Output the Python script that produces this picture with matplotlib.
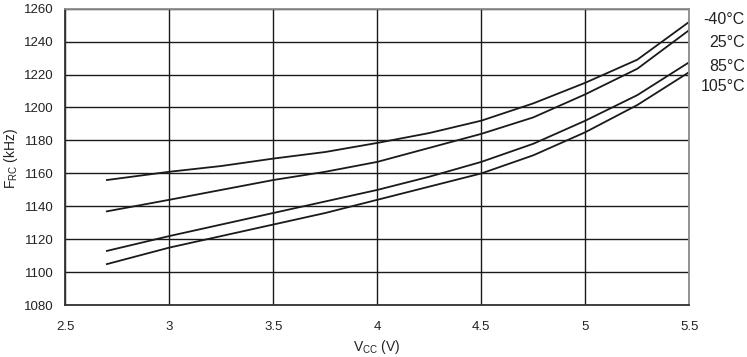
import matplotlib
matplotlib.use("Agg")
import matplotlib.pyplot as plt

plt.rcParams['font.family'] = ['Liberation Sans', 'DejaVu Sans']
plt.rcParams['mathtext.fontset'] = 'custom'
plt.rcParams['mathtext.rm'] = 'Liberation Sans'
plt.rcParams['mathtext.it'] = 'Liberation Sans:italic'

vcc = [2.7, 3.0, 3.25, 3.5, 3.75, 4.0, 4.25, 4.5, 4.75, 5.0, 5.25, 5.5]
f_m40 = [1156, 1161, 1164.5, 1169, 1173, 1178.5, 1184.5, 1192, 1202.5, 1215, 1229, 1252]
f_25 = [1137, 1144, 1150, 1156, 1161, 1167, 1175.5, 1184, 1194, 1208, 1223.5, 1247]
f_85 = [1113, 1122, 1129, 1136, 1143, 1150, 1158, 1167, 1178, 1192, 1207.5, 1227.5]
f_105 = [1105, 1115, 1122, 1129, 1136, 1144, 1152, 1160, 1171, 1185, 1201.5, 1221.5]
series = [f_m40, f_25, f_85, f_105]
labels = ['-40°C', '25°C', '85°C', '105°C']
xticks = [2.5, 3, 3.5, 4, 4.5, 5, 5.5]
xticklabels = ['2.5', '3', '3.5', '4', '4.5', '5', '5.5']
yticks = list(range(1080, 1261, 20))

fig = plt.figure(figsize=(7.47, 3.57), dpi=100)
ax = fig.add_axes([0.0874, 0.1448, 0.8354, 0.8312])

for s in series:
    ax.plot(vcc, s, color='#1a1a1a', lw=1.3)

ax.set_xlim(2.5, 5.5)
ax.set_ylim(1080, 1260)
ax.set_xticks(xticks)
ax.set_xticklabels(xticklabels)
ax.set_yticks(yticks)
ax.grid(True, color='#1a1a1a', lw=1.0)
ax.tick_params(length=0, labelsize=9.5, colors='#222222')
ax.tick_params(axis='y', pad=8.5)
ax.tick_params(axis='x', pad=11.5)
for side in ['left', 'bottom']:
    ax.spines[side].set_color('#333333')
    ax.spines[side].set_linewidth(1.3)
for side in ['top', 'right']:
    ax.spines[side].set_color('#8c8c8c')
    ax.spines[side].set_linewidth(1.3)

fig.text(377 / 747, 1 - 347 / 357, 'V$_{\\mathrm{CC}}$ (V)', ha='center', va='center',
         fontsize=10, color='#222222')
fig.text(11 / 747, 1 - 158 / 357, 'F$_{\\mathrm{RC}}$ (kHz)', ha='center', va='center',
         rotation=90, fontsize=10, color='#222222')

label_y = [20, 42.7, 66.7, 86.7]
for lab, yp in zip(labels, label_y):
    fig.text(745 / 747, 1 - yp / 357, lab, ha='right', va='center',
             fontsize=11.5, color='#222222')

fig.savefig('out.png', dpi=100)
